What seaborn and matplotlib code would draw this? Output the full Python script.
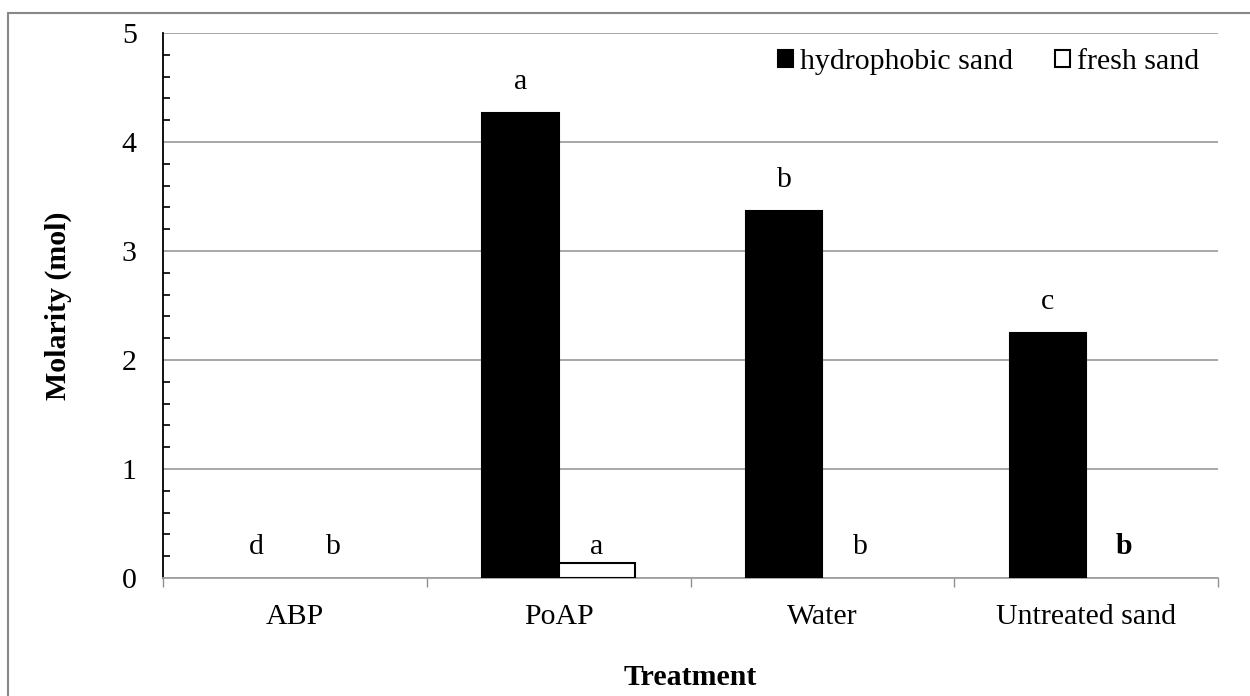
import pandas as pd
import seaborn as sns
import matplotlib.pyplot as plt
from matplotlib.lines import Line2D
from matplotlib.ticker import MultipleLocator, FixedLocator

treatments = ["ABP", "PoAP", "Water", "Untreated sand"]
hydrophobic = [0.0, 4.27, 3.37, 2.25]
fresh = [0.0, 0.14, 0.0, 0.0]
letters_hydrophobic = ["d", "a", "b", "c"]
letters_fresh = ["b", "a", "b", "b"]
series = ["hydrophobic sand", "fresh sand"]

df = pd.DataFrame({
    "Treatment": treatments * 2,
    "Molarity": hydrophobic + fresh,
    "Sand": [series[0]] * 4 + [series[1]] * 4,
})

sns.set_style("white")
plt.rcParams["font.family"] = ["Liberation Serif", "DejaVu Serif"]
plt.rcParams["text.color"] = "black"
plt.rcParams["axes.labelcolor"] = "black"
plt.rcParams["xtick.labelcolor"] = "black"
plt.rcParams["ytick.labelcolor"] = "black"

FS = 21.5

fig = plt.figure(figsize=(12.5, 6.96), dpi=100)
ax = fig.add_axes([163 / 1250, 1 - 578 / 696, 1055 / 1250, 545 / 696])

sns.barplot(data=df, x="Treatment", y="Molarity", hue="Sand", order=treatments,
            hue_order=series, palette=["black", "white"], edgecolor="black",
            linewidth=1.5, width=0.58, gap=0, ax=ax, legend=True, zorder=3)

# zero-height bars leave no visible mark in the original
for cont in ax.containers:
    for bar in cont:
        if bar.get_height() == 0:
            bar.set_linewidth(0)

ax.set_ylim(0, 5)
ax.set_xlim(-0.5, 3.5)
ax.yaxis.set_major_locator(MultipleLocator(1))
ax.yaxis.set_minor_locator(MultipleLocator(0.2))
ax.grid(axis="y", color="#a0a0a0", linewidth=1.3, zorder=0)
ax.set_axisbelow(True)

for s in ["top", "right"]:
    ax.spines[s].set_visible(False)
ax.spines["left"].set_color("black")
ax.spines["left"].set_linewidth(1.3)
ax.spines["bottom"].set_color("#a0a0a0")
ax.spines["bottom"].set_linewidth(1.3)

ax.tick_params(axis="y", which="major", direction="inout", length=12, width=1.2,
               color="black", labelsize=FS, pad=13)
ax.tick_params(axis="y", which="minor", direction="in", length=5, width=1.2,
               color="black", left=True)
ax.xaxis.set_minor_locator(FixedLocator([-0.5, 0.5, 1.5, 2.5, 3.5]))
ax.tick_params(axis="x", which="major", length=0, labelsize=FS, pad=19)
ax.tick_params(axis="x", which="minor", direction="out", length=6.5, width=1,
               color="#909090", bottom=True)

ax.set_xlabel("Treatment", fontsize=FS, fontweight="bold")
ax.set_ylabel("Molarity (mol)", fontsize=FS, fontweight="bold")
ax.xaxis.set_label_coords(0.5, -0.158)
ax.yaxis.set_label_coords(-0.086, 0.5)

# significance letters
h_bars = ax.containers[0]
f_bars = ax.containers[1]
for bar, val, lab in zip(h_bars, hydrophobic, letters_hydrophobic):
    ax.annotate(lab, (bar.get_x() + bar.get_width() / 2, val), xytext=(0, 13),
                textcoords="offset points", ha="center", va="bottom", fontsize=FS)
for i, (bar, lab) in enumerate(zip(f_bars, letters_fresh)):
    ax.annotate(lab, (bar.get_x() + bar.get_width() / 2, 0), xytext=(0, 13),
                textcoords="offset points", ha="center", va="bottom", fontsize=FS,
                fontweight="bold" if i == 3 else "normal")

handles, labels = ax.get_legend_handles_labels()
ax.legend(handles, labels, ncol=2, frameon=False, loc="upper right",
          bbox_to_anchor=(1.008, 1.02), fontsize=FS, handlelength=0.5,
          handleheight=0.5, handletextpad=0.25, columnspacing=1.4)

# outer chart border
fig.add_artist(Line2D([8 / 1250, 8 / 1250], [0, 1 - 13 / 696], color="#888888", lw=1.5))
fig.add_artist(Line2D([8 / 1250, 1], [1 - 13 / 696, 1 - 13 / 696], color="#888888", lw=1.5))

fig.savefig("out.png", dpi=100)
